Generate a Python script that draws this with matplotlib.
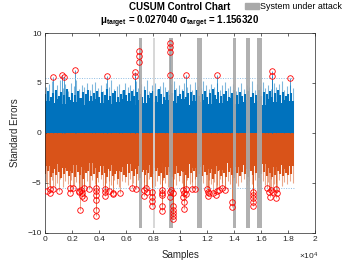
import matplotlib
matplotlib.use("Agg")
import matplotlib.pyplot as plt
from matplotlib.patches import Patch
import numpy as np

plt.rcParams["font.family"] = ["Liberation Sans", "DejaVu Sans"]
plt.rcParams["mathtext.fontset"] = "custom"
plt.rcParams["mathtext.rm"] = "Liberation Sans:bold"
plt.rcParams["mathtext.it"] = "Liberation Sans:bold"
plt.rcParams["mathtext.default"] = "regular"

# ── Data ──────────────────────────────────────────────────────────────────────
N_SAMPLES = 18450
CORE_BIN = 400      # samples per core bin
SPIKE_BIN = 200     # samples per spike bin
THRESHOLD = 5.5

upper_core = [3.2, 3.0, 3.4, 2.9, 3.3, 3.1, 3.5, 2.8, 3.2, 3.4,
              3.0, 3.3, 2.9, 3.1, 3.4, 3.2, 2.8, 3.3, 3.0, 3.5,
              3.1, 2.9, 3.3, 3.2, 3.0, 3.4, 2.8, 3.2, 3.1, 3.3,
              2.9, 3.4, 3.0, 3.2, 3.5, 2.9, 3.1, 3.3, 3.0, 3.2,
              2.8, 3.4, 3.1, 3.0, 3.3, 3.2]
upper_mid = [3.9, 4.2, 3.6, 4.0, 4.3, 3.7, 4.1, 3.8, 4.4, 3.6,
             4.0, 3.8, 4.2, 3.5, 4.1, 3.9, 4.3, 3.7, 4.0, 4.2,
             3.6, 4.1, 3.8, 4.4, 3.7, 4.0, 4.2, 3.6, 3.9, 4.3,
             3.8, 4.0, 4.2, 3.7, 4.1, 3.9, 3.6, 4.3, 3.8, 4.0,
             4.2, 3.7, 4.4, 3.9, 3.6, 4.1, 3.8, 4.0, 4.3, 3.7,
             3.9, 4.2, 3.6, 4.0, 4.1, 3.8, 4.3, 3.7, 3.9, 4.2,
             3.6, 4.0, 4.4, 3.8, 4.1, 3.7, 3.9, 4.2, 3.6, 4.0,
             4.3, 3.8, 4.1, 3.7, 3.9, 4.2, 3.6, 4.0, 3.8, 4.3,
             3.7, 4.1, 3.9, 4.2, 3.6, 4.0, 4.3, 3.8, 4.1, 3.7,
             3.9, 4.0]
upper_peak = [4.6, 4.9, 5.2, 4.3, 4.8, 5.3, 4.5, 4.9, 4.2, 5.0,
              4.7, 5.3, 4.4, 4.8, 4.6, 5.0, 4.3, 4.9, 5.1, 4.5,
              4.8, 4.2, 5.0, 4.6, 5.3, 4.4, 4.7, 4.9, 4.3, 5.0,
              4.6, 4.8, 4.4, 5.2, 4.5, 4.9, 4.7, 5.3, 4.2, 4.8,
              5.0, 4.4, 4.7, 5.1, 4.6, 4.3, 4.9, 5.2, 4.5, 4.8,
              4.4, 5.0, 4.6, 4.9, 4.3, 5.1, 4.7, 4.5, 5.2, 4.8,
              4.4, 4.9, 4.6, 5.0, 4.3, 4.8, 5.1, 4.5, 4.7, 4.9,
              4.2, 4.6, 5.0, 4.4, 4.8, 4.6, 5.2, 4.3, 4.9, 4.7,
              5.1, 4.5, 4.8, 4.4, 5.0, 4.6, 4.9, 5.2, 4.3, 4.7,
              4.8, 4.5]

lower_core = [-3.3, -3.6, -3.1, -3.5, -3.8, -3.2, -3.4, -3.7, -3.0, -3.5,
              -3.3, -3.6, -3.2, -3.8, -3.4, -3.1, -3.6, -3.3, -3.7, -3.2,
              -3.5, -3.0, -3.4, -3.6, -3.3, -3.8, -3.1, -3.5, -3.4, -3.2,
              -3.6, -3.3, -3.7, -3.0, -3.5, -3.4, -3.2, -3.6, -3.3, -3.8,
              -3.1, -3.5, -3.4, -3.2, -3.6, -3.3]
lower_mid = [-4.1, -3.8, -4.4, -4.0, -4.2, -3.9, -4.5, -4.1, -3.8, -4.3,
             -4.0, -4.4, -3.9, -4.2, -4.6, -4.0, -3.8, -4.3, -4.1, -4.5,
             -3.9, -4.2, -4.0, -4.4, -3.8, -4.3, -4.1, -4.6, -3.9, -4.2,
             -4.4, -4.0, -3.8, -4.3, -4.1, -4.5, -3.9, -4.2, -4.0, -4.4,
             -4.1, -3.8, -4.3, -4.0, -4.5, -4.2, -3.9, -4.4, -4.1, -4.0,
             -4.3, -3.9, -4.2, -4.5, -4.0, -3.8, -4.4, -4.1, -4.3, -3.9,
             -4.2, -4.0, -4.6, -4.1, -3.8, -4.3, -4.0, -4.4, -3.9, -4.2,
             -4.5, -4.0, -4.3, -3.9, -4.1, -4.4, -3.8, -4.2, -4.0, -4.5,
             -4.1, -3.9, -4.3, -4.0, -4.4, -4.2, -3.8, -4.1, -4.3, -4.0,
             -4.2, -4.1]
lower_peak = [-4.9, -5.2, -4.7, -5.3, -5.0, -4.6, -5.4, -4.8, -5.1, -4.7,
              -5.3, -4.9, -5.0, -4.6, -5.2, -4.8, -5.4, -4.7, -5.1, -4.9,
              -4.6, -5.3, -5.0, -4.8, -5.2, -4.7, -5.1, -5.4, -4.8, -4.9,
              -5.2, -4.6, -5.0, -5.3, -4.7, -5.1, -4.9, -5.2, -4.6, -5.0,
              -5.3, -4.8, -5.1, -4.7, -5.0, -5.4, -4.9, -4.6, -5.2, -4.8,
              -5.0, -5.3, -4.7, -5.1, -4.9, -4.6, -5.2, -4.8, -5.0, -5.3,
              -4.7, -5.1, -4.9, -5.2, -4.6, -5.0, -5.4, -4.8, -5.1, -4.7,
              -5.0, -5.3, -4.9, -4.6, -5.2, -4.8, -5.1, -4.7, -5.3, -5.0,
              -4.8, -5.2, -4.9, -4.6, -5.1, -5.0, -4.7, -5.3, -4.9, -5.1,
              -4.8, -5.0]

# out-of-control points (samples, standard errors)
upper_out_x = [614, 1230, 1425, 2240, 4600, 6650, 6650, 6970, 6970, 6970,
               9255, 9255, 9255, 9255, 10414, 12703, 16765, 16765, 18117]
upper_out_y = [5.57, 5.77, 5.6, 6.27, 5.73, 6.1, 5.67, 8.23, 7.7, 7.1,
               8.97, 8.57, 8.07, 5.8, 5.83, 5.83, 6.17, 5.7, 5.53]

lower_out_x = [148, 369, 369, 615, 1009, 1846, 1846, 2093, 2511, 2530,
               2585, 2650, 2708, 2708, 2880, 2900, 3275,
               3767, 3767, 3767, 3767, 3767, 3767,
               4406, 4406, 4450, 4751, 4997, 4997, 5539, 6400, 6721,
               7312, 7312, 7435, 7509, 7903, 7903, 7903, 7903,
               8667, 8667, 8667, 8667, 8667, 9232, 9282, 9355, 9478,
               9500, 9500, 9500, 9500, 9500,
               10216, 10265, 10216, 10265, 10265, 10414, 10463, 10906, 11078,
               11989, 12038, 12112, 12038, 12431, 12678, 12727, 12875, 13121,
               13343, 13811, 13836, 15387, 15387, 15387, 15387, 15387,
               16420, 16544, 16617, 16740, 16863, 17060, 17060, 17159]
lower_out_y = [-5.77, -6.03, -5.6, -5.63, -5.77, -5.97, -5.5, -5.5, -5.77, -5.93,
               -7.77, -5.7, -6.03, -6.3, -6.53, -5.5, -5.63,
               -5.47, -5.8, -6.17, -6.7, -7.77, -8.3,
               -5.6, -5.93, -6.3, -5.77, -5.97, -6.13, -6.03, -5.47, -5.63,
               -5.7, -6.3, -5.47, -5.93, -5.9, -6.37, -6.87, -7.37,
               -5.7, -6.03, -6.2, -7.37, -7.87, -5.93, -6.43, -5.7, -6.03,
               -7.37, -7.7, -8.0, -8.3, -8.6,
               -5.7, -6.03, -6.37, -6.93, -7.6, -5.63, -6.1, -5.6, -5.6,
               -5.6, -5.87, -6.03, -6.3, -6.03, -6.2, -5.77, -5.7, -5.53,
               -5.7, -6.93, -7.47, -5.87, -6.2, -6.53, -6.97, -7.37,
               -5.47, -5.87, -6.37, -5.7, -5.93, -5.6, -6.53, -6.03]

# attack windows (start, end in samples)
attack_start = [6950, 8020, 9200, 11250, 13940, 14840, 15680]
attack_end = [7170, 8150, 9460, 11620, 14160, 15190, 16030]
attack_shade = ["#a9a9a9", "#d4d4d4", "#a9a9a9", "#a9a9a9", "#a9a9a9",
                "#a9a9a9", "#a9a9a9"]

BLUE = "#0072BD"
ORANGE = "#D95319"
TXT = "#262626"

# ── Plot ──────────────────────────────────────────────────────────────────────
fig = plt.figure(figsize=(3.5, 2.63), dpi=100)
ax = fig.add_axes([0.1286, 0.115, 0.7724, 0.7595])

core_x = np.arange(len(upper_core) + 1) * CORE_BIN
core_x[-1] = N_SAMPLES
ax.fill_between(core_x, 0, upper_core + [upper_core[-1]], step="post",
                color=BLUE, lw=0)
ax.fill_between(core_x, 0, lower_core + [lower_core[-1]], step="post",
                color=ORANGE, lw=0)

spike_x = np.arange(len(upper_peak)) * SPIKE_BIN + SPIKE_BIN * 0.55
mid_x = np.arange(len(upper_mid)) * SPIKE_BIN + SPIKE_BIN * 0.05
ax.vlines(spike_x, 0, upper_peak, color=BLUE, lw=0.8, alpha=0.5)
ax.vlines(mid_x, 0, upper_mid, color=BLUE, lw=1.5)
ax.vlines(spike_x, 0, lower_peak, color=ORANGE, lw=0.8, alpha=0.5)
ax.vlines(mid_x, 0, lower_mid, color=ORANGE, lw=1.5)

# excursions reaching the out-of-control points
ax.vlines(upper_out_x, 0, upper_out_y, color=BLUE, lw=0.6, alpha=0.8)
ax.vlines(lower_out_x, 0, lower_out_y, color=ORANGE, lw=0.6, alpha=0.6)

ax.hlines([THRESHOLD, -THRESHOLD], 0, N_SAMPLES, color="#8fbde3",
          lw=0.7, linestyles=(0, (1, 1.5)))

for s, e, c in zip(attack_start, attack_end, attack_shade):
    ax.bar((s + e) / 2, 19, width=e - s, bottom=-9.5, color=c, alpha=0.9,
           lw=0, zorder=3)

ax.plot(upper_out_x, upper_out_y, "o", mfc="none", mec="red", ms=4, mew=0.6,
        zorder=4)
ax.plot(lower_out_x, lower_out_y, "o", mfc="none", mec="red", ms=4, mew=0.6,
        zorder=4)

ax.set_xlim(0, 20000)
ax.set_ylim(-10, 10)
ax.set_xticks(np.arange(0, 20001, 2000))
ax.set_xticklabels(["0", "0.2", "0.4", "0.6", "0.8", "1", "1.2", "1.4",
                    "1.6", "1.8", "2"])
ax.set_yticks([-10, -5, 0, 5, 10])
ax.tick_params(direction="in", top=True, right=True, length=2.5, width=0.5,
               labelsize=6, colors=TXT, pad=2.5)
for sp in ax.spines.values():
    sp.set_linewidth(0.5)
    sp.set_color(TXT)

ax.set_xlabel("Samples", fontsize=7, color=TXT, labelpad=5)
ax.set_ylabel("Standard Errors", fontsize=7, color=TXT, labelpad=5)
fig.text(0.91, 0.005, r"$\times$10$^4$", fontsize=6, color=TXT, ha="right",
         va="bottom")

fig.text(0.514, 0.972, "CUSUM Control Chart", fontsize=7, fontweight="bold",
         ha="center", va="center", color="black")
fig.text(0.514, 0.918,
         r"$\mu_{target}$ = 0.027040 $\sigma_{target}$ = 1.156320",
         fontsize=7, fontweight="bold", ha="center", va="center",
         color="black")

fig.legend(handles=[Patch(color="#a9a9a9")], labels=["System under attack"],
           loc="upper right", bbox_to_anchor=(0.995, 1.015), frameon=False,
           fontsize=6.4, handlelength=1.6, handleheight=0.6, handletextpad=0.15,
           borderpad=0.2)

fig.savefig("out.png", dpi=100)
